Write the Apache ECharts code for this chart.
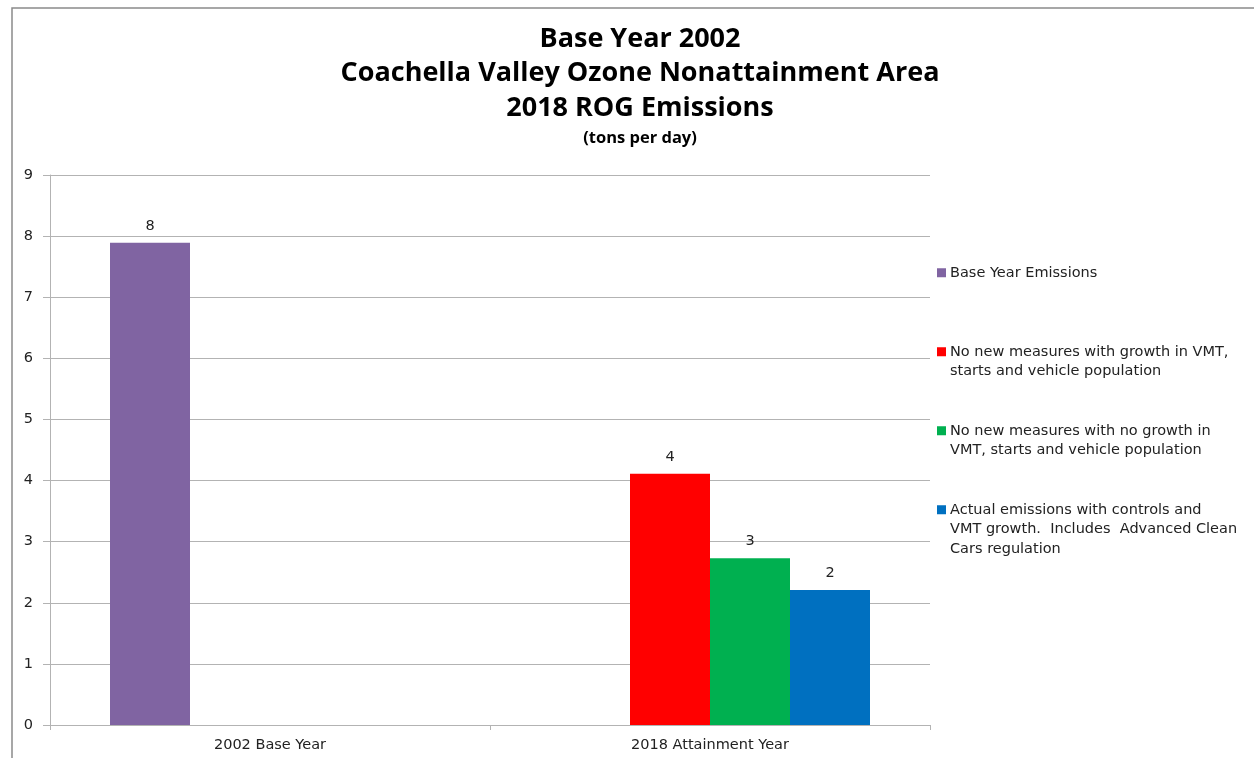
<!DOCTYPE html>
<html>
<head>
<meta charset="utf-8">
<script src="https://cdn.jsdelivr.net/npm/echarts@6/dist/echarts.min.js"></script>
<style>
  html, body { margin: 0; padding: 0; background: #fff; }
  #chart { width: 1254px; height: 758px; }
</style>
</head>
<body>
<div id="chart"></div>
<script>
// categories and series values (tons per day)
var categories = ['2002 Base Year', '2018 Attainment Year'];
var seriesNames = [
    'Base Year Emissions',
    'No new measures with growth in VMT,\nstarts and vehicle population',
    'No new measures with no growth in\nVMT, starts and vehicle population',
    'Actual emissions with controls and\nVMT growth.  Includes  Advanced Clean\nCars regulation'
];
var baseYear = [7.89, null];
var noMeasuresGrowth = [null, 4.11];
var noMeasuresNoGrowth = [null, 2.73];
var actualControls = [null, 2.21];
var colors = ['#8064A2', '#FF0000', '#00B050', '#0070C0'];
var yTicks = [0, 9, 1];

var chart = echarts.init(document.getElementById('chart'));

var LINE = 19.5;
var titleFont = '"Open Sans", sans-serif';
var bodyFont = '"DejaVu Sans", sans-serif';

// one legend per item so each can sit where the reference has it;
// the icon path is padded so the square lines up with the first text line
function legendFor(name, topY) {
    var lines = name.split('\n').length;
    var h = 9 + (lines - 1) * LINE;
    var icon = 'path://M0,0h9v9h-9z' + (lines > 1 ? 'M0,' + h + 'h0.01v0.01h-0.01z' : '');
    return {
        data: [{ name: name, icon: icon }],
        orient: 'vertical',
        left: 937,
        top: topY,
        padding: 0,
        itemWidth: 9,
        itemHeight: h,
        itemGap: 6,
        selectedMode: false,
        textStyle: { fontFamily: bodyFont, fontSize: 14.5, color: '#222', lineHeight: LINE, padding: [0, 0, 0, -1] }
    };
}

function barSeries(i, data) {
    return {
        name: seriesNames[i],
        type: 'bar',
        data: data,
        barWidth: 80,
        barGap: '0%',
        itemStyle: { color: colors[i] },
        label: {
            show: true,
            position: 'top',
            distance: 9,
            fontFamily: bodyFont,
            fontSize: 14.5,
            color: '#222',
            formatter: function (p) { return Math.round(p.value); }
        }
    };
}

var option = {
    backgroundColor: '#fff',
    animation: false,
    title: [{
        text: 'Base Year 2002\nCoachella Valley Ozone Nonattainment Area\n2018 ROG Emissions',
        left: 635,
        textAlign: 'center',
        top: 17,
        textStyle: { fontFamily: titleFont, fontWeight: 'bold', fontSize: 27, lineHeight: 34.5, color: '#000' }
    }, {
        text: '(tons per day)',
        left: 635,
        textAlign: 'center',
        top: 125,
        textStyle: { fontFamily: titleFont, fontWeight: 'bold', fontSize: 16.5, color: '#000' }
    }],
    legend: [
        legendFor(seriesNames[0], 263),
        legendFor(seriesNames[1], 342),
        legendFor(seriesNames[2], 421),
        legendFor(seriesNames[3], 500)
    ],
    graphic: [{
        type: 'rect',
        shape: { x: 12, y: 8, width: 1400, height: 900 },
        style: { fill: 'none', stroke: '#8a8a8a', lineWidth: 1.5 },
        silent: true
    }],
    grid: { left: 50, right: 324, top: 175, bottom: 33 },
    xAxis: {
        type: 'category',
        data: categories,
        axisLine: { lineStyle: { color: '#b3b3b3', width: 1 } },
        axisTick: { show: true, alignWithLabel: false, length: 5, lineStyle: { color: '#b3b3b3' } },
        axisLabel: { fontFamily: bodyFont, fontSize: 14.5, color: '#222', margin: 13 }
    },
    yAxis: {
        type: 'value',
        min: yTicks[0],
        max: yTicks[1],
        interval: yTicks[2],
        axisLine: { show: true, lineStyle: { color: '#b3b3b3', width: 1 } },
        axisTick: { show: true, length: 7, lineStyle: { color: '#b3b3b3' } },
        axisLabel: { fontFamily: bodyFont, fontSize: 14.5, color: '#222', margin: 17 },
        splitLine: { lineStyle: { color: '#b3b3b3', width: 1 } }
    },
    series: [
        barSeries(0, baseYear),
        barSeries(1, noMeasuresGrowth),
        barSeries(2, noMeasuresNoGrowth),
        barSeries(3, actualControls)
    ]
};

chart.setOption(option);
</script>
</body>
</html>
